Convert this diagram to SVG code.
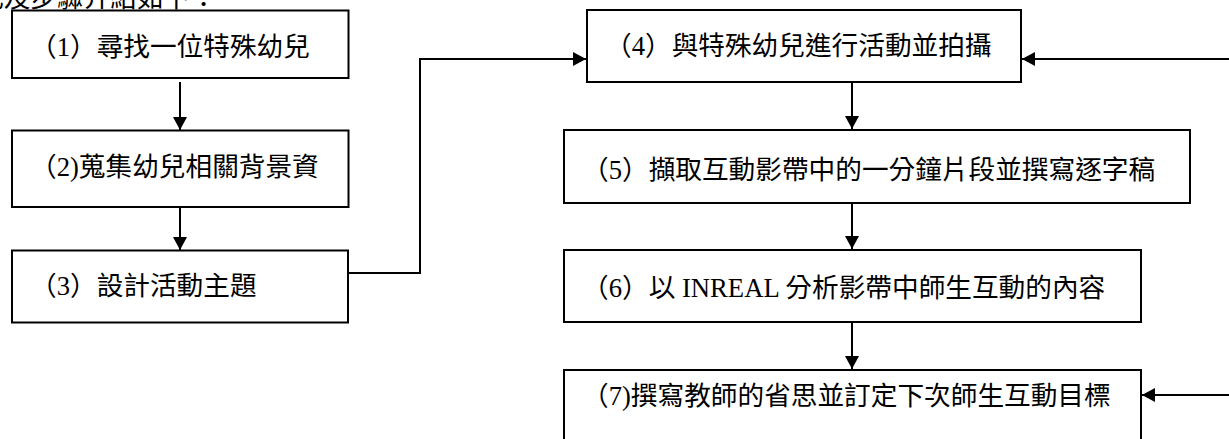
<svg xmlns="http://www.w3.org/2000/svg" width="1229" height="439" viewBox="0 0 1229 439">
  <style>
    .box { fill: #ffffff; stroke: #000000; stroke-width: 2; }
    .lbl { font-family: "Liberation Serif", "Noto Sans CJK TC", serif; font-size: 26.67px; fill: #000000; }
    .conn { fill: none; stroke: #000000; stroke-width: 2; }
  </style>
  <defs>
    <marker id="arrow" markerUnits="userSpaceOnUse" markerWidth="14" markerHeight="14" refX="13" refY="7" orient="auto">
      <path d="M0,0 L13,7 L0,14 z" fill="#000000"/>
    </marker>
  </defs>
  <rect width="1229" height="439" fill="#ffffff"/>
  <text class="lbl" x="-23" y="6.5">式及步驟介紹如下：</text>
  <g id="connectors">
    <line class="conn" x1="180" y1="82" x2="180" y2="130" marker-end="url(#arrow)"/>
    <line class="conn" x1="180" y1="207" x2="180" y2="250" marker-end="url(#arrow)"/>
    <polyline class="conn" points="348,273 420,273 420,59 586,59" marker-end="url(#arrow)"/>
    <line class="conn" x1="1229" y1="59" x2="1022" y2="59" marker-end="url(#arrow)"/>
    <line class="conn" x1="852" y1="82" x2="852" y2="129" marker-end="url(#arrow)"/>
    <line class="conn" x1="852" y1="203" x2="852" y2="249" marker-end="url(#arrow)"/>
    <line class="conn" x1="852" y1="322" x2="852" y2="369" marker-end="url(#arrow)"/>
    <line class="conn" x1="1229" y1="395" x2="1142" y2="395" marker-end="url(#arrow)"/>
  </g>
  <g id="node1">
    <rect class="box" x="12" y="10.5" width="336.5" height="67.5"/>
    <text class="lbl" x="30" y="55.5">（1）尋找一位特殊幼兒</text>
  </g>
  <g id="node2">
    <rect class="box" x="12" y="130.5" width="336.5" height="76.5"/>
    <text class="lbl" x="30" y="176">（2)蒐集幼兒相關背景資</text>
  </g>
  <g id="node3">
    <rect class="box" x="12" y="250.5" width="336" height="72"/>
    <text class="lbl" x="30" y="295">（3）設計活動主題</text>
  </g>
  <g id="node4">
    <rect class="box" x="587" y="10" width="434" height="72"/>
    <text class="lbl" x="605" y="55">（4）與特殊幼兒進行活動並拍攝</text>
  </g>
  <g id="node5">
    <rect class="box" x="564" y="130" width="626" height="73"/>
    <text class="lbl" x="582" y="179">（5）擷取互動影帶中的一分鐘片段並撰寫逐字稿</text>
  </g>
  <g id="node6">
    <rect class="box" x="564" y="250" width="577" height="72"/>
    <text class="lbl" x="582" y="297">（6）以 INREAL 分析影帶中師生互動的內容</text>
  </g>
  <g id="node7">
    <rect class="box" x="564" y="370" width="577" height="80"/>
    <text class="lbl" x="582" y="405">（7)撰寫教師的省思並訂定下次師生互動目標</text>
  </g>
</svg>
